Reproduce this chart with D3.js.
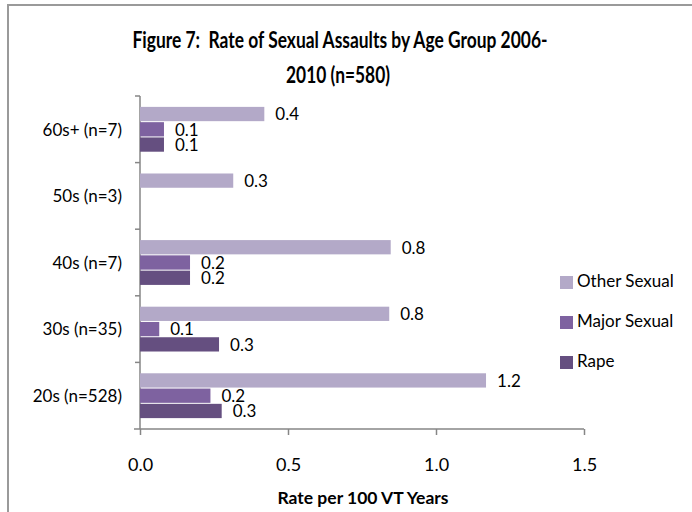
<!doctype html>
<html lang="en">
<head>
<meta charset="utf-8">
<style>
  body { margin: 0; background: #fff; }
  text { font-family: Lato, "Open Sans", sans-serif; fill: #000; }
  .axis path, .axis line { stroke: #868686; stroke-width: 1.5px; }
  .axis text { font-size: 18px; }
</style>
</head>
<body>
<script src="https://d3js.org/d3.v7.min.js"></script>
<div id="chart"></div>
<script>
// age groups, top to bottom
var groups = ["60s+ (n=7)", "50s (n=3)", "40s (n=7)", "30s (n=35)", "20s (n=528)"];
var series = ["Other Sexual", "Major Sexual", "Rape"];
var colors = ["#b3a9c8", "#7e62a0", "#654f80"];
// rate per 100 VT years, one array per series (same order as groups)
var otherSexual = [0.42, 0.315, 0.847, 0.842, 1.169];
var majorSexual = [0.081, 0, 0.169, 0.065, 0.238];
var rape        = [0.081, 0, 0.169, 0.267, 0.276];
var xTicks = [0, 0.5, 1.0, 1.5];

var values = [otherSexual, majorSexual, rape];

var width = 692, height = 512;
var svg = d3.select("#chart").append("svg")
    .attr("width", width)
    .attr("height", height);

// chart frame
svg.append("rect")
   .attr("x", 8).attr("y", 5)
   .attr("width", 700).attr("height", 520)
   .attr("fill", "none")
   .attr("stroke", "#9a9a9a")
   .attr("stroke-width", 2);

// title
var title = svg.append("text")
   .attr("text-anchor", "middle")
   .style("font-weight", "bold")
   .style("font-size", "22px")
   .style("white-space", "pre");
title.append("tspan").attr("x", 340).attr("y", 48)
   .attr("textLength", 415).attr("lengthAdjust", "spacingAndGlyphs")
   .text("Figure 7:  Rate of Sexual Assaults by Age Group 2006-");
title.append("tspan").attr("x", 338).attr("y", 83)
   .attr("textLength", 104).attr("lengthAdjust", "spacingAndGlyphs")
   .text("2010 (n=580)");

var x = d3.scaleLinear().domain([0, 1.5]).range([140, 584]);
var y0 = d3.scaleBand().domain(groups).range([96, 429]);
var y1 = d3.scaleBand().domain(series).range([0, y0.bandwidth()]).paddingOuter(0.68);

// x axis
svg.append("g")
   .attr("class", "axis")
   .attr("transform", "translate(0,429)")
   .call(d3.axisBottom(x).tickValues(xTicks).tickFormat(d3.format(".1f")).tickSize(6).tickPadding(23))
   .call(function(g){ g.select(".domain").attr("d", "M134,0H584"); });

// y axis with ticks between bands
var yAxis = svg.append("g")
   .attr("class", "axis")
   .attr("transform", "translate(140,0)");
yAxis.append("line").attr("y1", 96).attr("y2", 429);
var bounds = d3.range(groups.length).map(function(i){ return y0.range()[0] + i * y0.step(); });
yAxis.selectAll(".tk").data(bounds).enter().append("line")
   .attr("x1", -5).attr("x2", 0)
   .attr("y1", function(d){ return d; }).attr("y2", function(d){ return d; });
yAxis.selectAll(".lbl").data(groups).enter().append("text")
   .attr("x", -18)
   .attr("y", function(d){ return y0(d) + y0.bandwidth() / 2 + 2; })
   .attr("text-anchor", "end")
   .attr("dominant-baseline", "middle")
   .style("font-size", "17px")
   .text(function(d){ return d; });

// bars
var rows = [];
groups.forEach(function(g, i){
  series.forEach(function(s, j){
    rows.push({group: g, series: s, color: colors[j], value: values[j][i]});
  });
});

var bars = svg.append("g");
bars.selectAll("rect").data(rows.filter(function(d){ return d.value > 0; }))
   .enter().append("rect")
   .attr("x", x(0))
   .attr("y", function(d){ return y0(d.group) + y1(d.series) + 0.5; })
   .attr("width", function(d){ return x(d.value) - x(0); })
   .attr("height", y1.bandwidth() - 1)
   .attr("fill", function(d){ return d.color; });

bars.selectAll("text").data(rows.filter(function(d){ return d.value > 0; }))
   .enter().append("text")
   .attr("x", function(d){ return x(d.value) + 11; })
   .attr("y", function(d){ return y0(d.group) + y1(d.series) + y1.bandwidth() / 2 + 2; })
   .attr("dominant-baseline", "middle")
   .style("font-size", "17px")
   .text(function(d){ return d3.format(".1f")(d.value); });

// x axis title
svg.append("text")
   .attr("x", 363).attr("y", 504)
   .attr("text-anchor", "middle")
   .style("font-weight", "bold")
   .style("font-size", "17.5px")
   .text("Rate per 100 VT Years");

// legend
var legend = svg.append("g").attr("transform", "translate(560,276)");
var item = legend.selectAll("g").data(series).enter().append("g")
   .attr("transform", function(d, i){ return "translate(0," + (i * 40) + ")"; });
item.append("rect")
   .attr("width", 13).attr("height", 13)
   .attr("fill", function(d, i){ return colors[i]; });
item.append("text")
   .attr("x", 17).attr("y", 7)
   .attr("dominant-baseline", "middle")
   .style("font-size", "17px")
   .text(function(d){ return d; });
</script>
</body>
</html>
